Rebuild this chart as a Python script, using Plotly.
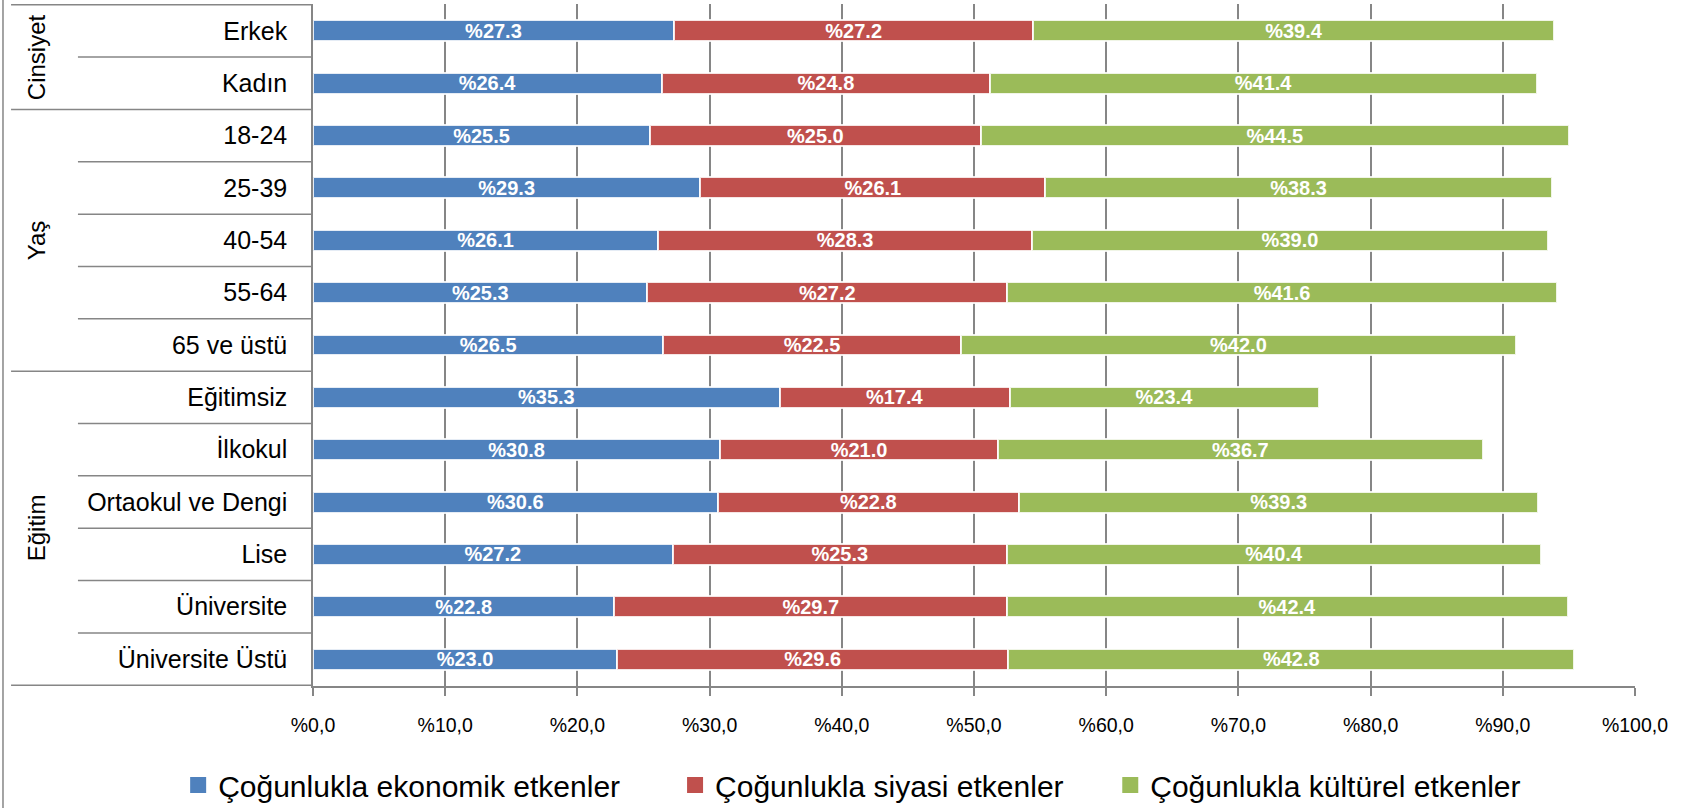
import plotly.graph_objects as go

categories = ["Erkek", "Kadın", "18-24", "25-39", "40-54", "55-64", "65 ve üstü",
              "Eğitimsiz", "İlkokul", "Ortaokul ve Dengi", "Lise", "Üniversite", "Üniversite Üstü"]
group_names = ["Cinsiyet", "Yaş", "Eğitim"]
group_sizes = [2, 5, 6]

series_names = ["Çoğunlukla ekonomik etkenler", "Çoğunlukla siyasi etkenler", "Çoğunlukla kültürel etkenler"]
ekonomik = [27.3, 26.4, 25.5, 29.3, 26.1, 25.3, 26.5, 35.3, 30.8, 30.6, 27.2, 22.8, 23.0]
siyasi = [27.2, 24.8, 25.0, 26.1, 28.3, 27.2, 22.5, 17.4, 21.0, 22.8, 25.3, 29.7, 29.6]
kulturel = [39.4, 41.4, 44.5, 38.3, 39.0, 41.6, 42.0, 23.4, 36.7, 39.3, 40.4, 42.4, 42.8]
colors = ["#4F81BD", "#C0504D", "#9BBB59"]

tick_vals = [0, 10, 20, 30, 40, 50, 60, 70, 80, 90, 100]
tick_text = ["%0,0", "%10,0", "%20,0", "%30,0", "%40,0", "%50,0",
             "%60,0", "%70,0", "%80,0", "%90,0", "%100,0"]

FONT = "Liberation Sans, Arial, sans-serif"
GRID = "#868686"
legend_pad = [6, 5, 0]  # trailing spaces to mimic legend item spacing

fig = go.Figure()
for name, vals, col in zip(series_names, [ekonomik, siyasi, kulturel], colors):
    fig.add_trace(go.Bar(
        y=categories, x=vals, name=name, orientation="h",
        marker=dict(color=col, line=dict(color="rgba(255,255,255,0.85)", width=2)),
        width=0.4, showlegend=False, legendgroup=name,
        text=[f"%{v:.1f}" for v in vals],
        textposition="inside", insidetextanchor="middle",
        textfont=dict(color="white", size=20, family=FONT, weight="bold"),
        hoverinfo="skip",
    ))
# legend entries (square swatches)
for name, col, pad in zip(series_names, colors, legend_pad):
    fig.add_trace(go.Scatter(
        x=[None], y=[None], mode="markers", name=name + "\u00a0" * pad,
        legendgroup=name,
        marker=dict(symbol="square", size=16, color=col), hoverinfo="skip",
    ))

shapes = []
# left chart border
shapes.append(dict(type="line", xref="paper", yref="paper", x0=-0.2345, x1=-0.2345,
                   y0=-0.2, y1=1.02, line=dict(color=GRID, width=1.5)))
# separators in category table
n = len(categories)
group_edges = [0]
for s in group_sizes:
    group_edges.append(group_edges[-1] + s)
for i in range(n + 1):
    x0 = -0.2284 if i in group_edges else -0.1778
    shapes.append(dict(type="line", xref="paper", yref="y", x0=x0, x1=0,
                       y0=i - 0.5, y1=i - 0.5, line=dict(color=GRID, width=1.5)))

annotations = []
for gname, a, b in zip(group_names, group_edges[:-1], group_edges[1:]):
    annotations.append(dict(xref="paper", yref="y", x=-0.2095, y=(a + b - 1) / 2,
                            xanchor="center", yanchor="middle",
                            text=gname, textangle=-90, showarrow=False,
                            font=dict(size=24, color="black", family=FONT)))

fig.update_layout(
    barmode="stack",
    width=1694, height=808,
    margin=dict(l=313, r=59, t=4, b=122, autoexpand=False),
    paper_bgcolor="white", plot_bgcolor="white",
    font=dict(family=FONT, color="black"),
    uniformtext=dict(minsize=20, mode="show"),
    shapes=shapes, annotations=annotations,
    showlegend=True,
    legend=dict(orientation="h", xref="paper", yref="paper",
                x=-0.102, xanchor="left", y=-0.1452, yanchor="middle",
                font=dict(size=30, color="black", family=FONT),
                traceorder="normal", itemsizing="trace"),
    xaxis=dict(range=[0, 100], tickvals=tick_vals, ticktext=tick_text,
               showgrid=True, gridcolor=GRID, gridwidth=1.5,
               showline=True, linecolor=GRID, linewidth=2,
               ticks="outside", ticklen=8, tickcolor=GRID, tickwidth=1.5,
               ticklabelstandoff=13,
               tickfont=dict(size=19.5, color="black", family=FONT),
               zeroline=False, fixedrange=True, automargin=False),
    yaxis=dict(type="category", categoryorder="array", categoryarray=categories,
               autorange="reversed", showgrid=False, zeroline=False,
               showline=True, linecolor=GRID, linewidth=1.5,
               ticks="", ticklabelstandoff=19,
               tickfont=dict(size=25, color="black", family=FONT), fixedrange=True,
               automargin=False),
)

fig.write_html("out.html", config={"displayModeBar": False},
               post_script="document.body.style.margin='0px';")
